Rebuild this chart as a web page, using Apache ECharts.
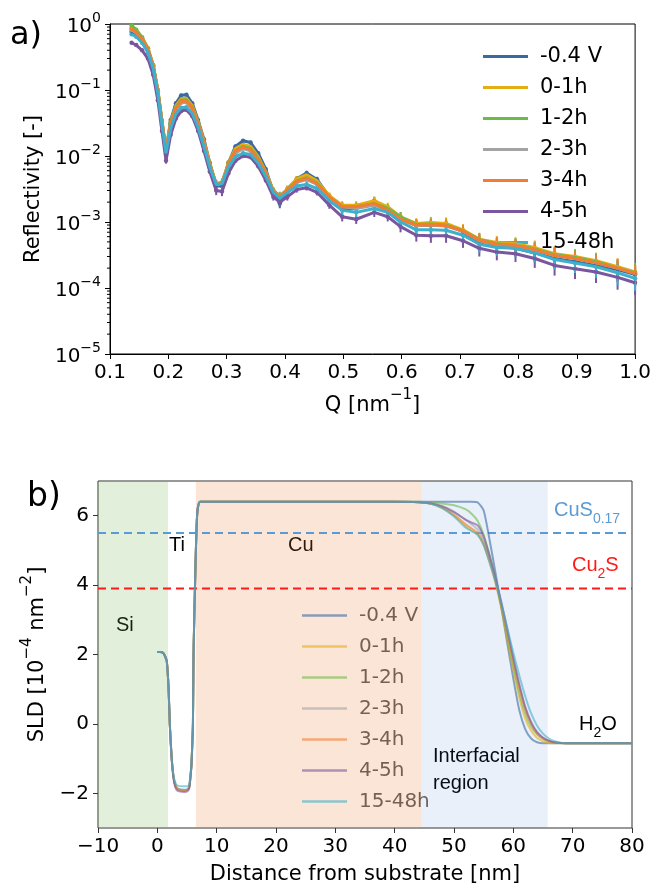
<!DOCTYPE html>
<html>
<head>
<meta charset="utf-8">
<script src="https://cdn.jsdelivr.net/npm/echarts@6/dist/echarts.min.js"></script>
<style>
  html, body { margin: 0; padding: 0; background: #fff; }
  #chart { width: 654px; height: 886px; }
</style>
</head>
<body>
<div id="chart"></div>
<script>
  // ---- panel a: reflectivity ----
  const names = ['-0.4 V', '0-1h', '1-2h', '2-3h', '3-4h', '4-5h', '15-48h']
  const colors = ['#3b6aa3', '#e5ad12', '#6cba47', '#a3a3a3', '#f27d32', '#7a569e', '#3eb0cb']

  const q = [0.137, 0.145, 0.155, 0.165, 0.174, 0.182, 0.189, 0.196, 0.204, 0.213,
    0.222, 0.231, 0.241, 0.251, 0.261, 0.271, 0.282, 0.292, 0.303, 0.315,
    0.328, 0.341, 0.354, 0.367, 0.380, 0.391, 0.404, 0.420, 0.437, 0.455,
    0.476, 0.498, 0.522, 0.553, 0.576, 0.598, 0.625, 0.650, 0.676, 0.705,
    0.733, 0.763, 0.795, 0.828, 0.862, 0.897, 0.933, 0.970, 1.000]

  const reflV04 = [0.76, 0.69, 0.56, 0.40, 0.23, 0.095, 0.033, 0.012, 0.035, 0.063,
    0.083, 0.085, 0.063, 0.035, 0.018, 0.0079, 0.0035, 0.0035, 0.0079, 0.014,
    0.017, 0.016, 0.011, 0.0063, 0.0028, 0.0019, 0.0028, 0.0045, 0.0055, 0.0044,
    0.0024, 0.0016, 0.0016, 0.0021, 0.0016, 0.0011, 8.9e-4, 8.9e-4, 9.5e-4, 7.1e-4,
    4.8e-4, 4.3e-4, 4.0e-4, 3.4e-4, 2.8e-4, 2.5e-4, 2.2e-4, 1.9e-4, 1.6e-4]
  const refl01 = [0.88, 0.78, 0.62, 0.43, 0.24, 0.10, 0.035, 0.012, 0.033, 0.058,
    0.074, 0.075, 0.058, 0.033, 0.017, 0.0078, 0.0038, 0.0039, 0.0080, 0.013,
    0.015, 0.014, 0.0098, 0.0058, 0.0030, 0.0024, 0.0032, 0.0045, 0.0052, 0.0042,
    0.0025, 0.0018, 0.0018, 0.0021, 0.0017, 0.0012, 9.5e-4, 9.8e-4, 9.5e-4, 7.6e-4,
    5.5e-4, 4.9e-4, 4.7e-4, 4.1e-4, 3.3e-4, 3.0e-4, 2.6e-4, 2.1e-4, 1.75e-4]
  const refl12 = [0.95, 0.82, 0.63, 0.43, 0.24, 0.10, 0.034, 0.012, 0.032, 0.055,
    0.070, 0.071, 0.055, 0.032, 0.016, 0.0075, 0.0038, 0.0040, 0.0078, 0.012,
    0.014, 0.013, 0.0092, 0.0056, 0.0030, 0.0025, 0.0031, 0.0042, 0.0047, 0.0039,
    0.0024, 0.0017, 0.0017, 0.0019, 0.0016, 0.0012, 9.2e-4, 9.3e-4, 9.0e-4, 7.4e-4,
    5.4e-4, 4.7e-4, 4.5e-4, 3.9e-4, 3.2e-4, 2.9e-4, 2.5e-4, 2.0e-4, 1.7e-4]
  const refl23 = [0.82, 0.73, 0.58, 0.41, 0.23, 0.095, 0.033, 0.012, 0.030, 0.051,
    0.064, 0.065, 0.051, 0.030, 0.015, 0.0072, 0.0037, 0.0039, 0.0073, 0.011,
    0.013, 0.012, 0.0086, 0.0053, 0.0029, 0.0024, 0.0030, 0.0040, 0.0044, 0.0037,
    0.0023, 0.0017, 0.0016, 0.0018, 0.0015, 0.0011, 8.8e-4, 9.0e-4, 8.7e-4, 7.2e-4,
    5.2e-4, 4.5e-4, 4.4e-4, 3.8e-4, 3.1e-4, 2.8e-4, 2.4e-4, 2.0e-4, 1.65e-4]
  const refl34 = [0.85, 0.75, 0.60, 0.42, 0.235, 0.098, 0.034, 0.012, 0.031, 0.053,
    0.067, 0.068, 0.053, 0.031, 0.016, 0.0074, 0.0037, 0.0039, 0.0076, 0.012,
    0.0135, 0.0125, 0.0089, 0.0055, 0.0029, 0.0024, 0.0031, 0.0041, 0.0046, 0.0038,
    0.0024, 0.0017, 0.0017, 0.0019, 0.0015, 0.0011, 9.0e-4, 9.1e-4, 8.8e-4, 7.3e-4,
    5.3e-4, 4.6e-4, 4.4e-4, 3.8e-4, 3.1e-4, 2.8e-4, 2.4e-4, 2.0e-4, 1.65e-4]
  const refl45 = [0.52, 0.48, 0.40, 0.30, 0.17, 0.070, 0.024, 0.0085, 0.021, 0.037,
    0.048, 0.050, 0.040, 0.024, 0.012, 0.0058, 0.0030, 0.0029, 0.0055, 0.0085,
    0.010, 0.0096, 0.0070, 0.0043, 0.0024, 0.0020, 0.0024, 0.0031, 0.0033, 0.0028,
    0.0018, 0.0012, 0.0011, 0.0014, 0.0012, 8.5e-4, 6.3e-4, 6.2e-4, 6.2e-4, 5.2e-4,
    4.0e-4, 3.5e-4, 3.3e-4, 2.8e-4, 2.2e-4, 1.95e-4, 1.75e-4, 1.45e-4, 1.2e-4]
  const refl1548 = [0.70, 0.64, 0.52, 0.37, 0.21, 0.088, 0.030, 0.011, 0.026, 0.044,
    0.054, 0.055, 0.044, 0.027, 0.014, 0.0068, 0.0037, 0.0038, 0.0068, 0.0098,
    0.011, 0.0105, 0.0078, 0.0049, 0.0028, 0.0023, 0.0028, 0.0035, 0.0037, 0.0032,
    0.0021, 0.0015, 0.0014, 0.0016, 0.0014, 0.0010, 7.6e-4, 7.6e-4, 7.5e-4, 6.3e-4,
    4.6e-4, 4.1e-4, 4.0e-4, 3.4e-4, 2.7e-4, 2.4e-4, 2.1e-4, 1.7e-4, 1.4e-4]
  const reflAll = [reflV04, refl01, refl12, refl23, refl34, refl45, refl1548]

  // relative error of the measured points (same Q grid)
  const errRel = [0.02, 0.02, 0.02, 0.02, 0.03, 0.04, 0.06, 0.1, 0.05, 0.04,
    0.04, 0.04, 0.04, 0.05, 0.06, 0.08, 0.15, 0.15, 0.08, 0.06,
    0.06, 0.06, 0.07, 0.08, 0.12, 0.15, 0.12, 0.1, 0.09, 0.1,
    0.12, 0.15, 0.15, 0.15, 0.15, 0.18, 0.2, 0.22, 0.22, 0.22,
    0.25, 0.25, 0.25, 0.28, 0.3, 0.3, 0.32, 0.35, 0.35]

  // log axis minor ticks
  const decades = [1e-5, 1e-4, 1e-3, 1e-2, 1e-1]
  const minorMult = [2, 3, 4, 5, 6, 7, 8, 9]

  // ---- panel b: SLD profiles ----
  const sldX = [0, 0.5, 1.0, 1.3, 1.6, 1.9, 2.1, 2.4, 2.7, 3.0, 3.4, 4.5, 5.1, 5.4, 5.7, 5.8, 6.0, 6.1, 6.35, 6.7, 7.2,
    10, 20, 30, 40, 44, 46, 48, 50, 52, 53, 54, 55, 56, 57, 58, 59, 60, 61, 62, 63, 64, 65, 66, 67, 68, 69, 70, 72, 80]

  const sldV04 = [2.07, 2.07, 2.04, 1.95, 1.8, 1.0, 0.0, -0.95, -1.5, -1.75, -1.86, -1.9, -1.88, -1.8, -1.3, -1.0, 0.0, 2.0, 4.0, 6.0, 6.4,
    6.4, 6.4, 6.4, 6.4, 6.4, 6.4, 6.4, 6.4, 6.4, 6.4, 6.38, 6.15, 5.3, 4.35, 3.35, 2.3, 1.3, 0.4, -0.15, -0.42, -0.53, -0.56, -0.56, -0.56, -0.56, -0.56, -0.56, -0.56, -0.56]
  const sld01 = [2.07, 2.07, 2.04, 1.95, 1.8, 1.0, 0.0, -0.95, -1.5, -1.75, -1.88, -1.92, -1.9, -1.8, -1.3, -1.0, 0.0, 2.0, 4.0, 6.0, 6.4,
    6.4, 6.4, 6.4, 6.4, 6.39, 6.35, 6.22, 6.0, 5.7, 5.58, 5.45, 5.15, 4.65, 4.05, 3.3, 2.4, 1.55, 0.75, 0.15, -0.2, -0.4, -0.5, -0.55, -0.56, -0.56, -0.56, -0.56, -0.56, -0.56]
  const sld12 = [2.07, 2.07, 2.04, 1.95, 1.8, 1.0, 0.0, -0.95, -1.5, -1.75, -1.88, -1.92, -1.9, -1.8, -1.3, -1.0, 0.0, 2.0, 4.0, 6.0, 6.4,
    6.4, 6.4, 6.4, 6.4, 6.4, 6.39, 6.35, 6.3, 6.18, 6.05, 5.85, 5.45, 4.85, 4.15, 3.35, 2.5, 1.65, 0.9, 0.3, -0.08, -0.3, -0.43, -0.5, -0.54, -0.55, -0.56, -0.56, -0.56, -0.56]
  const sld23 = [2.07, 2.07, 2.04, 1.95, 1.8, 1.0, 0.0, -0.95, -1.5, -1.75, -1.88, -1.92, -1.9, -1.8, -1.3, -1.0, 0.0, 2.0, 4.0, 6.0, 6.4,
    6.4, 6.4, 6.4, 6.4, 6.39, 6.36, 6.28, 6.12, 5.88, 5.75, 5.6, 5.3, 4.78, 4.15, 3.45, 2.65, 1.85, 1.1, 0.45, 0.02, -0.26, -0.41, -0.49, -0.53, -0.55, -0.56, -0.56, -0.56, -0.56]
  const sld34 = [2.07, 2.07, 2.04, 1.95, 1.8, 1.0, 0.0, -0.95, -1.5, -1.75, -1.88, -1.92, -1.9, -1.8, -1.3, -1.0, 0.0, 2.0, 4.0, 6.0, 6.4,
    6.4, 6.4, 6.4, 6.4, 6.39, 6.35, 6.24, 6.03, 5.75, 5.63, 5.5, 5.2, 4.7, 4.1, 3.4, 2.6, 1.8, 1.05, 0.42, 0.0, -0.28, -0.42, -0.5, -0.54, -0.55, -0.56, -0.56, -0.56, -0.56]
  const sld45 = [2.07, 2.07, 2.04, 1.95, 1.8, 1.0, 0.0, -0.95, -1.55, -1.82, -1.93, -1.96, -1.94, -1.84, -1.32, -1.0, 0.0, 2.0, 4.0, 6.0, 6.4,
    6.4, 6.4, 6.4, 6.4, 6.39, 6.36, 6.27, 6.1, 5.88, 5.8, 5.72, 5.4, 4.85, 4.2, 3.5, 2.72, 1.9, 1.15, 0.5, 0.06, -0.23, -0.39, -0.48, -0.53, -0.55, -0.56, -0.56, -0.56, -0.56]
  const sld1548 = [2.07, 2.07, 2.04, 1.95, 1.8, 1.0, 0.0, -0.95, -1.45, -1.68, -1.78, -1.8, -1.8, -1.72, -1.25, -0.95, 0.0, 2.0, 4.0, 6.0, 6.4,
    6.4, 6.4, 6.4, 6.4, 6.39, 6.35, 6.22, 5.98, 5.65, 5.55, 5.45, 5.15, 4.65, 4.1, 3.45, 2.75, 2.05, 1.4, 0.8, 0.3, -0.05, -0.28, -0.42, -0.5, -0.54, -0.56, -0.56, -0.56, -0.56]
  const sldAll = [sldV04, sld01, sld12, sld23, sld34, sld45, sld1548]

  // layer regions (Si, Ti, Cu, interfacial) and reference SLDs
  const regionEdges = [-10, 1.8, 6.5, 44.5, 65.8]
  const regionColors = ['rgba(112,173,71,0.2)', 'rgba(255,255,255,0)', 'rgba(237,125,49,0.2)', 'rgba(68,114,196,0.11)']
  const sldCuS = 5.5
  const sldCu2S = 3.9

  const FONT = 'DejaVu Sans'
  const ARIAL = 'Liberation Sans'
  const namesB = names.map(n => n + ' ')

  const supRich = {
    b: { fontSize: 20, fontFamily: FONT, color: '#000', lineHeight: 26, verticalAlign: 'bottom' },
    s: { fontSize: 14, fontFamily: FONT, color: '#000', lineHeight: 14, verticalAlign: 'top' }
  }
  const titleRich = {
    b: { fontSize: 21, fontFamily: FONT, color: '#000', lineHeight: 28, verticalAlign: 'bottom' },
    s: { fontSize: 15, fontFamily: FONT, color: '#000', lineHeight: 15, verticalAlign: 'top' }
  }
  const subRich = function (c) {
    return {
      m: { fontSize: 20, fontFamily: ARIAL, fill: c, color: c, lineHeight: 26, verticalAlign: 'top' },
      s: { fontSize: 14, fontFamily: ARIAL, fill: c, color: c, lineHeight: 14, verticalAlign: 'bottom' }
    }
  }

  const minorTicks = []
  decades.forEach(d => minorMult.forEach(m => minorTicks.push([0.1, d * m])))

  const series = []
  // measured points with error bars
  reflAll.forEach((arr, i) => {
    series.push({
      type: 'custom',
      xAxisIndex: 0,
      yAxisIndex: 0,
      silent: true,
      z: 2,
      data: q.map((x, j) => [x, arr[j], arr[j] * (1 - errRel[j]), arr[j] * (1 + errRel[j])]),
      renderItem: function (params, api) {
        const p = api.coord([api.value(0), api.value(1)])
        const lo = api.coord([api.value(0), api.value(2)])
        const hi = api.coord([api.value(0), api.value(3)])
        return {
          type: 'group',
          children: [
            { type: 'line', shape: { x1: p[0], y1: lo[1], x2: p[0], y2: hi[1] }, style: { stroke: colors[i], lineWidth: 2 } },
            { type: 'circle', shape: { cx: p[0], cy: p[1], r: 2.2 }, style: { fill: colors[i] } }
          ]
        }
      }
    })
  })
  reflAll.forEach((arr, i) => {
    series.push({
      name: names[i],
      type: 'line',
      xAxisIndex: 0,
      yAxisIndex: 0,
      showSymbol: false,
      color: colors[i],
      lineStyle: { width: 3 },
      data: q.map((x, j) => [x, arr[j]]),
      z: 3 + i
    })
  })
  series.push({
    type: 'custom',
    xAxisIndex: 0,
    yAxisIndex: 0,
    silent: true,
    data: minorTicks,
    renderItem: function (params, api) {
      const p = api.coord([api.value(0), api.value(1)])
      return {
        type: 'line',
        shape: { x1: p[0] - 3, y1: p[1], x2: p[0], y2: p[1] },
        style: { stroke: '#000', lineWidth: 1 }
      }
    }
  })

  // shaded layers
  series.push({
    type: 'line',
    xAxisIndex: 1,
    yAxisIndex: 1,
    data: [],
    silent: true,
    z: 1,
    markArea: {
      silent: true,
      data: regionColors.map((c, i) => [
        { xAxis: regionEdges[i], yAxis: -3, itemStyle: { color: c } },
        { xAxis: regionEdges[i + 1], yAxis: 7 }
      ])
    }
  })
  // reference lines
  series.push({
    type: 'line',
    xAxisIndex: 1,
    yAxisIndex: 1,
    showSymbol: false,
    silent: true,
    lineStyle: { color: '#5b9bd5', width: 2, type: [8, 5] },
    data: [[-10, sldCuS], [80, sldCuS]],
    z: 2
  })
  series.push({
    type: 'line',
    xAxisIndex: 1,
    yAxisIndex: 1,
    showSymbol: false,
    silent: true,
    lineStyle: { color: '#ff1a1a', width: 2, type: [8, 5] },
    data: [[-10, sldCu2S], [80, sldCu2S]],
    z: 2
  })
  sldAll.forEach((arr, i) => {
    series.push({
      name: namesB[i],
      type: 'line',
      xAxisIndex: 1,
      yAxisIndex: 1,
      showSymbol: false,
      smooth: 0.2,
      color: colors[i],
      lineStyle: { width: 2, opacity: 0.6 },
      data: sldX.map((x, j) => [x, arr[j]]),
      z: 3 + i
    })
  })

  const chart = echarts.init(document.getElementById('chart'))
  const option = {
    animation: false,
    backgroundColor: '#fff',
    grid: [
      { left: 110, top: 24, width: 526, height: 330, show: true, borderColor: '#000', borderWidth: 1 },
      { left: 98, top: 481, width: 534, height: 347, show: true, borderColor: '#333', borderWidth: 1 }
    ],
    xAxis: [
      {
        gridIndex: 0, type: 'value', min: 0.1, max: 1.0, interval: 0.1,
        name: '{b|Q [nm}{s|−1}{b|]}', nameLocation: 'middle', nameGap: 34,
        nameTextStyle: { rich: titleRich },
        axisLine: { show: true, onZero: false, lineStyle: { color: '#000' } },
        axisTick: { show: true, length: 5, lineStyle: { color: '#000' } },
        axisLabel: { fontSize: 20, fontFamily: FONT, color: '#000', margin: 9, formatter: v => v.toFixed(1) },
        splitLine: { show: false }
      },
      {
        gridIndex: 1, type: 'value', min: -10, max: 80, interval: 10,
        name: 'Distance from substrate [nm]', nameLocation: 'middle', nameGap: 36,
        nameTextStyle: { fontSize: 21, fontFamily: FONT, color: '#000' },
        axisLine: { show: false, onZero: false },
        axisTick: { show: true, length: 5, lineStyle: { color: '#333' } },
        axisLabel: { fontSize: 20, fontFamily: FONT, color: '#000', margin: 9, formatter: v => v < 0 ? '−' + (-v) : String(v) },
        splitLine: { show: false }
      }
    ],
    yAxis: [
      {
        gridIndex: 0, type: 'log', logBase: 10, min: 1e-5, max: 1,
        name: 'Reflectivity [-]', nameLocation: 'middle', nameGap: 66,
        nameTextStyle: { fontSize: 21, fontFamily: FONT, color: '#000' },
        axisLine: { show: true, onZero: false, lineStyle: { color: '#000' } },
        axisTick: { show: true, length: 5, lineStyle: { color: '#000' } },
        axisLabel: {
          margin: 9,
          formatter: v => '{b|10}{s|' + String(Math.round(Math.log10(v))).replace('-', '−') + '}',
          rich: supRich
        },
        splitLine: { show: false }
      },
      {
        gridIndex: 1, type: 'value', min: -3, max: 7,
        name: '{b|SLD [10}{s|−4}{b| nm}{s|−2}{b|]}', nameLocation: 'middle', nameGap: 50,
        nameTextStyle: { rich: titleRich },
        axisLine: { show: false, onZero: false },
        axisTick: { show: true, length: 5, lineStyle: { color: '#333' }, customValues: [-2, 0, 2, 4, 6] },
        axisLabel: {
          fontSize: 20, fontFamily: FONT, color: '#000', margin: 9,
          customValues: [-2, 0, 2, 4, 6],
          formatter: v => v < 0 ? '−' + (-v) : String(v)
        },
        splitLine: { show: false }
      }
    ],
    legend: [
      {
        data: names, orient: 'vertical', left: 478, top: 41,
        icon: 'rect', itemWidth: 45, itemHeight: 3, itemGap: 10,
        textStyle: { fontSize: 21, fontFamily: FONT, color: '#000', lineHeight: 21, padding: [0, 0, 0, 7] }
      },
      {
        data: namesB, orient: 'vertical', left: 297, top: 600,
        icon: 'rect', itemWidth: 45, itemHeight: 2.5, itemGap: 10,
        itemStyle: { opacity: 0.6 },
        formatter: n => n.trim(),
        textStyle: { fontSize: 20, fontFamily: FONT, color: 'rgba(60,40,30,0.7)', lineHeight: 21, padding: [0, 0, 0, 7] }
      }
    ],
    graphic: [
      { type: 'text', left: 10, top: 20, style: { text: 'a)', font: '32px "DejaVu Sans"', fill: '#000' } },
      { type: 'text', left: 27, top: 481, style: { text: 'b)', font: '33px "DejaVu Sans"', fill: '#000' } },
      { type: 'text', left: 116, top: 615, style: { text: 'Si', font: '20px "Liberation Sans"', fill: '#000' } },
      { type: 'text', left: 169, top: 535, style: { text: 'Ti', font: '20px "Liberation Sans"', fill: '#000' } },
      { type: 'text', left: 288, top: 535, style: { text: 'Cu', font: '20px "Liberation Sans"', fill: '#000' } },
      { type: 'text', left: 554, top: 500, style: { text: '{m|CuS}{s|0.17}', fill: '#5b9bd5', rich: subRich('#5b9bd5') } },
      { type: 'text', left: 572, top: 555, style: { text: '{m|Cu}{s|2}{m|S}', fill: '#ff1a1a', rich: subRich('#ff1a1a') } },
      { type: 'text', left: 579, top: 714, style: { text: '{m|H}{s|2}{m|O}', fill: '#000', rich: subRich('#000') } },
      { type: 'text', left: 433, top: 743, style: { text: 'Interfacial\nregion', font: '20px "Liberation Sans"', fill: '#000', lineHeight: 27 } }
    ],
    series: series
  }
  chart.setOption(option)
</script>
</body>
</html>
